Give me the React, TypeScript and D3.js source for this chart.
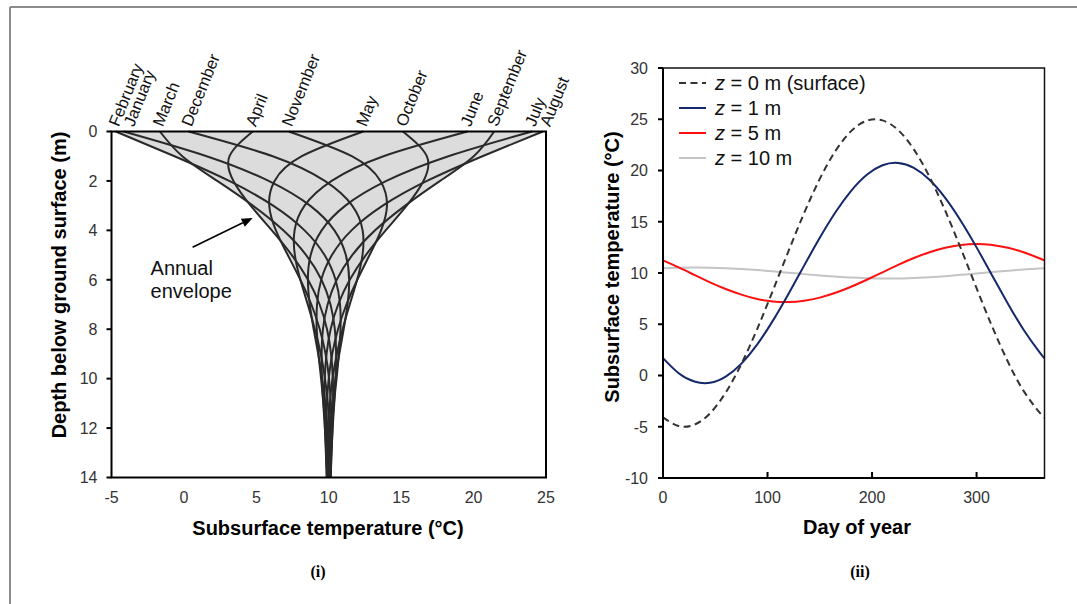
import React from "react";
import * as d3 from "d3";

// ---------- Panel (i): monthly temperature profiles vs depth ----------
const depths = [0, 1, 2, 3, 4, 5, 6, 7, 8, 9, 10, 11, 12, 13, 14];
const monthNames = [
  "January", "February", "March", "April", "May", "June",
  "July", "August", "September", "October", "November", "December",
];
const janProfile = [-4.16, 1.57, 5.85, 8.71, 10.39, 11.18, 11.41, 11.3, 11.03, 10.73, 10.46, 10.25, 10.1, 10.01, 9.96];
const febProfile = [-4.71, -0.65, 3.13, 6.16, 8.33, 9.71, 10.47, 10.78, 10.81, 10.7, 10.54, 10.36, 10.22, 10.11, 10.03];
const marProfile = [-1.66, -0.11, 2.3, 4.76, 6.86, 8.44, 9.5, 10.12, 10.42, 10.51, 10.47, 10.38, 10.27, 10.17, 10.09];
const aprProfile = [4.75, 3.15, 3.42, 4.61, 6.07, 7.45, 8.57, 9.37, 9.88, 10.16, 10.28, 10.3, 10.26, 10.2, 10.13];
const mayProfile = [12.38, 8.14, 6.26, 5.89, 6.35, 7.17, 8.04, 8.8, 9.38, 9.78, 10.02, 10.14, 10.18, 10.17, 10.14];
const junProfile = [19.58, 13.78, 10.2, 8.33, 7.64, 7.66, 8.04, 8.55, 9.04, 9.45, 9.74, 9.94, 10.05, 10.09, 10.1];
const julProfile = [24.03, 18.26, 13.98, 11.15, 9.51, 8.75, 8.56, 8.69, 8.96, 9.27, 9.54, 9.76, 9.91, 10.0, 10.04];
const augProfile = [24.78, 20.61, 16.78, 13.73, 11.57, 10.22, 9.48, 9.19, 9.17, 9.29, 9.47, 9.64, 9.79, 9.9, 9.97];
const sepProfile = [21.42, 20.01, 17.69, 15.28, 13.2, 11.62, 10.55, 9.92, 9.6, 9.51, 9.53, 9.62, 9.73, 9.83, 9.9];
const octProfile = [15.12, 16.77, 16.54, 15.38, 13.93, 12.56, 11.45, 10.65, 10.13, 9.85, 9.72, 9.71, 9.74, 9.8, 9.87];
const novProfile = [7.24, 11.59, 13.57, 14.02, 13.61, 12.82, 11.97, 11.22, 10.64, 10.24, 10.0, 9.87, 9.83, 9.83, 9.86];
const decProfile = [0.32, 6.13, 9.73, 11.62, 12.34, 12.33, 11.96, 11.45, 10.96, 10.56, 10.26, 10.07, 9.96, 9.91, 9.9];
const tempTicks = [-5, 0, 5, 10, 15, 20, 25];
const depthTicks = [0, 2, 4, 6, 8, 10, 12, 14];

// ---------- Panel (ii): temperature vs day of year ----------
const days = [0, 15, 30, 45, 60, 75, 90, 105, 120, 135, 150, 165, 180, 195, 210, 225, 240, 255, 270, 285, 300, 315, 330, 345, 360, 365];
const tempSurface = [-4.08, -4.93, -4.8, -3.69, -1.66, 1.13, 4.51, 8.26, 12.12, 15.84, 19.18, 21.9, 23.84, 24.86, 24.89, 23.94, 22.06, 19.38, 16.08, 12.38, 8.52, 4.75, 1.34, -1.5, -3.58, -4.08];
const temp1m = [1.69, 0.22, -0.59, -0.71, -0.11, 1.16, 3.01, 5.33, 7.96, 10.72, 13.43, 15.92, 18.01, 19.58, 20.51, 20.74, 20.26, 19.1, 17.33, 15.08, 12.5, 9.74, 7.01, 4.47, 2.3, 1.69];
const temp5m = [11.23, 10.54, 9.81, 9.09, 8.44, 7.89, 7.47, 7.23, 7.17, 7.3, 7.6, 8.07, 8.66, 9.34, 10.07, 10.79, 11.46, 12.03, 12.47, 12.74, 12.83, 12.74, 12.46, 12.02, 11.44, 11.23];
const temp10m = [10.46, 10.51, 10.53, 10.52, 10.47, 10.39, 10.29, 10.16, 10.03, 9.89, 9.76, 9.65, 9.55, 9.49, 9.47, 9.47, 9.52, 9.59, 9.69, 9.82, 9.95, 10.09, 10.22, 10.34, 10.43, 10.46];
const seriesLabels = ["0 m (surface)", "1 m", "5 m", "10 m"];
const dayTicks = [0, 100, 200, 300];
const tempTicksR = [-10, -5, 0, 5, 10, 15, 20, 25, 30];

const SANS = "'Liberation Sans', Arial, Helvetica, sans-serif";
const SERIF = "'Liberation Serif', 'Times New Roman', serif";

export default function App() {
  const W = 1077;
  const H = 604;

  // scales panel (i)
  const xL = d3.scaleLinear().domain([-5, 25]).range([111.5, 546]);
  const yL = d3.scaleLinear().domain([0, 14]).range([131.5, 477.5]);
  // scales panel (ii)
  const xR = d3.scaleLinear().domain([0, 365]).range([663, 1044.5]);
  const yR = d3.scaleLinear().domain([-10, 30]).range([478, 68]);

  const profiles = [
    janProfile, febProfile, marProfile, aprProfile, mayProfile, junProfile,
    julProfile, augProfile, sepProfile, octProfile, novProfile, decProfile,
  ];

  const profileLine = d3
    .line<number>()
    .x((d) => xL(d))
    .y((_, i) => yL(depths[i]))
    .curve(d3.curveNatural);

  const lows = depths.map((_, i) => d3.min(profiles, (p) => p[i]) as number);
  const highs = depths.map((_, i) => d3.max(profiles, (p) => p[i]) as number);
  const envelope = d3
    .area<number>()
    .y((d) => yL(d))
    .x0((_, i) => xL(lows[i]))
    .x1((_, i) => xL(highs[i]))
    .curve(d3.curveNatural);

  // month labels: anchored at surface temperature, nudged to avoid overlap
  const labelOrder = profiles
    .map((p, i) => ({ name: monthNames[i], x: xL(p[0]) + 3 }))
    .sort((a, b) => a.x - b.x);
  for (let i = 1; i < labelOrder.length; i++) {
    if (labelOrder[i].x - labelOrder[i - 1].x < 15) labelOrder[i].x = labelOrder[i - 1].x + 15;
  }

  // panel (ii) lines
  const dayLine = d3
    .line<number>()
    .x((_, i) => xR(days[i]))
    .y((d) => yR(d))
    .curve(d3.curveNatural);
  const seriesR = [
    { data: tempSurface, color: "#333333", dash: "7,4.5", width: 2 },
    { data: temp1m, color: "#14286b", dash: undefined, width: 2 },
    { data: temp5m, color: "#ff1010", dash: undefined, width: 2 },
    { data: temp10m, color: "#c4c4c4", dash: undefined, width: 2 },
  ];

  // annotation arrow (in data units)
  const a0 = [xL(0.6), yL(4.68)];
  const a1 = [xL(4.75), yL(3.5)];
  const dx = a1[0] - a0[0];
  const dy = a1[1] - a0[1];
  const len = Math.hypot(dx, dy);
  const ux = dx / len;
  const uy = dy / len;
  const headL = 11;
  const headW = 4.5;
  const base = [a1[0] - ux * headL, a1[1] - uy * headL];
  const headPts = [
    [a1[0], a1[1]],
    [base[0] - uy * headW, base[1] + ux * headW],
    [base[0] + uy * headW, base[1] - ux * headW],
  ]
    .map((p) => p.join(","))
    .join(" ");

  const tickColor = "#333";
  const tickFont = 16;

  return (
    <svg
      width={W}
      height={H}
      viewBox={`0 0 ${W} ${H}`}
      style={{ position: "absolute", left: 0, top: 0, background: "#fff" }}
      fontFamily={SANS}
    >
      <rect x={0} y={0} width={W} height={H} fill="#fff" />
      {/* outer frame */}
      <line x1={10} y1={7} x2={W} y2={7} stroke="#8c8c8c" strokeWidth={2} />
      <line x1={10} y1={7} x2={10} y2={H} stroke="#8c8c8c" strokeWidth={2} />

      {/* ===== Panel (i) ===== */}
      <path d={envelope(depths) || ""} fill="#dcdcdc" stroke="none" />
      {profiles.map((p, i) => (
        <path key={i} d={profileLine(p) || ""} fill="none" stroke="#2a2a2a" strokeWidth={2} />
      ))}
      <rect
        x={xL(-5)}
        y={yL(0)}
        width={xL(25) - xL(-5)}
        height={yL(14) - yL(0)}
        fill="none"
        stroke="#000"
        strokeWidth={2}
      />
      {depthTicks.map((t) => (
        <g key={t}>
          <line x1={xL(-5) - 5} x2={xL(-5)} y1={yL(t)} y2={yL(t)} stroke="#000" strokeWidth={2} />
          <text x={xL(-5) - 14} y={yL(t)} dy="0.36em" textAnchor="end" fontSize={tickFont} fill={tickColor}>
            {t}
          </text>
        </g>
      ))}
      {tempTicks.map((t) => (
        <text key={t} x={xL(t)} y={yL(14) + 25.5} textAnchor="middle" fontSize={tickFont} fill={tickColor}>
          {t}
        </text>
      ))}
      {labelOrder.map((m) => (
        <text
          key={m.name}
          transform={`translate(${m.x},${yL(0) - 4}) rotate(-68)`}
          fontSize={16.5}
          fill="#111"
        >
          {m.name}
        </text>
      ))}
      <text x={328} y={535} textAnchor="middle" fontSize={20} fontWeight="bold" fill="#000">
        Subsurface temperature (°C)
      </text>
      <text
        transform={`translate(66,${285}) rotate(-90)`}
        textAnchor="middle"
        fontSize={20}
        fontWeight="bold"
        fill="#000"
      >
        Depth below ground surface (m)
      </text>
      {/* annotation */}
      <line x1={a0[0]} y1={a0[1]} x2={base[0]} y2={base[1]} stroke="#000" strokeWidth={1.6} />
      <polygon points={headPts} fill="#000" />
      <text x={xL(-2.3)} y={yL(5.81)} fontSize={20} fill="#111">
        Annual
      </text>
      <text x={xL(-2.3)} y={yL(6.74)} fontSize={20} fill="#111">
        envelope
      </text>
      <text x={318} y={577} textAnchor="middle" fontSize={16} fontWeight="bold" fontFamily={SERIF} fill="#000">
        (i)
      </text>

      {/* ===== Panel (ii) ===== */}
      {seriesR
        .slice()
        .reverse()
        .map((s, i) => (
          <path
            key={i}
            d={dayLine(s.data) || ""}
            fill="none"
            stroke={s.color}
            strokeWidth={s.width}
            strokeDasharray={s.dash}
          />
        ))}
      <rect
        x={xR(0)}
        y={yR(30)}
        width={xR(365) - xR(0)}
        height={yR(-10) - yR(30)}
        fill="none"
        stroke="#111"
        strokeWidth={1.5}
      />
      <line x1={xR(0)} x2={xR(0)} y1={yR(30)} y2={yR(-10)} stroke="#000" strokeWidth={2} />
      <line x1={xR(0)} x2={xR(365)} y1={yR(-10)} y2={yR(-10)} stroke="#000" strokeWidth={2} />
      {tempTicksR.map((t) => (
        <g key={t}>
          <line x1={xR(0) - 5} x2={xR(0)} y1={yR(t)} y2={yR(t)} stroke="#000" strokeWidth={2} />
          <text x={xR(0) - 15} y={yR(t)} dy="0.36em" textAnchor="end" fontSize={tickFont} fill={tickColor}>
            {t}
          </text>
        </g>
      ))}
      {dayTicks.map((t) => (
        <g key={t}>
          <line x1={xR(t)} x2={xR(t)} y1={yR(-10)} y2={yR(-10) - 6} stroke="#000" strokeWidth={2} />
          <text x={xR(t)} y={yR(-10) + 25} textAnchor="middle" fontSize={tickFont} fill={tickColor}>
            {t}
          </text>
        </g>
      ))}
      <text x={857} y={534} textAnchor="middle" fontSize={20} fontWeight="bold" fill="#000">
        Day of year
      </text>
      <text
        transform={`translate(619,${267}) rotate(-90)`}
        textAnchor="middle"
        fontSize={20}
        fontWeight="bold"
        fill="#000"
      >
        Subsurface temperature (°C)
      </text>
      {/* legend */}
      {seriesR.map((s, i) => {
        const ly = 83 + i * 25;
        return (
          <g key={i}>
            <line
              x1={679}
              x2={706}
              y1={ly}
              y2={ly}
              stroke={s.color}
              strokeWidth={2}
              strokeDasharray={s.dash}
            />
            <text x={715} y={ly} dy="0.36em" fontSize={20} fill="#111">
              <tspan fontStyle="italic">z</tspan>
              {" = " + seriesLabels[i]}
            </text>
          </g>
        );
      })}
      <text x={860} y={577} textAnchor="middle" fontSize={16} fontWeight="bold" fontFamily={SERIF} fill="#000">
        (ii)
      </text>
    </svg>
  );
}
